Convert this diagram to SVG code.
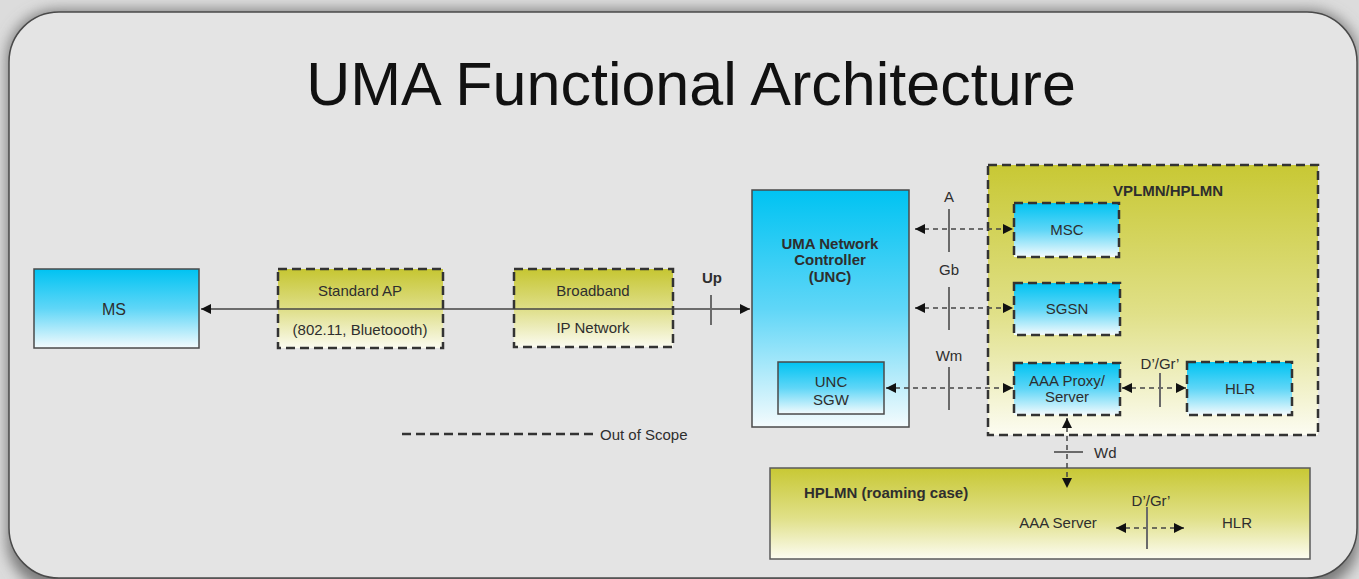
<svg xmlns="http://www.w3.org/2000/svg" width="1359" height="579" viewBox="0 0 1359 579">
<style>
text{font-family:"Liberation Sans",Arial,sans-serif;fill:#2e2e2e;font-size:15px;text-anchor:middle;dominant-baseline:central}
.b{font-weight:bold}
.cyan{fill:url(#gCyan);stroke:#4a4a4a;stroke-width:1.5}
.cyanD{fill:url(#gCyan);stroke:#333;stroke-width:2.5;stroke-dasharray:9 5}
.olD{fill:url(#gOl);stroke:#333;stroke-width:2.5;stroke-dasharray:9 5}
.solid{stroke:#444;stroke-width:1.5;fill:none}
.dash{stroke:#444;stroke-width:1.5;fill:none;stroke-dasharray:5 4}
.tick{stroke:#6a6a6a;stroke-width:2;fill:none}
</style>
<defs>
<linearGradient id="gCyan" x1="0" y1="0" x2="0" y2="1">
<stop offset="0" stop-color="#00c3f2"/>
<stop offset="0.5" stop-color="#5fd6f7"/>
<stop offset="1" stop-color="#f4fbfd"/>
</linearGradient>
<linearGradient id="gOl" x1="0" y1="0" x2="0" y2="1">
<stop offset="0" stop-color="#c6c632"/>
<stop offset="0.5" stop-color="#dede86"/>
<stop offset="1" stop-color="#fbfbf0"/>
</linearGradient>
<linearGradient id="gOl2" x1="0" y1="0" x2="0" y2="1">
<stop offset="0" stop-color="#c8c834"/>
<stop offset="0.55" stop-color="#e0e088"/>
<stop offset="1" stop-color="#fcfcf2"/>
</linearGradient>
<filter id="sh" x="-5%" y="-10%" width="110%" height="120%">
<feGaussianBlur stdDeviation="7"/>
</filter>
<marker id="ah" viewBox="0 0 10 10" refX="10" refY="5" markerWidth="11" markerHeight="10" markerUnits="userSpaceOnUse" orient="auto-start-reverse">
<path d="M0,0 L10,5 L0,10 z" fill="#111"/>
</marker>
</defs>
<rect x="0" y="0" width="1359" height="579" fill="#dcdcdc"/>
<rect x="7" y="10" width="1352" height="580" rx="50" fill="#7a7a7a" filter="url(#sh)"/>
<rect x="9" y="12" width="1348" height="566" rx="50" fill="#e4e4e4" stroke="#4a4a4a" stroke-width="1.5"/>
<text x="691" y="84" style="font-size:61px;fill:#111">UMA Functional Architecture</text>

<g id="vplmn">
<rect x="988" y="165" width="330" height="270" fill="url(#gOl2)" stroke="#333" stroke-width="2.5" stroke-dasharray="9 5"/>
<text class="b" x="1168" y="190">VPLMN/HPLMN</text>
</g>
<g id="hplmn">
<rect x="770" y="468" width="540" height="91" fill="url(#gOl2)" stroke="#5a5a5a" stroke-width="1.5"/>
<text class="b" x="804" y="492" style="text-anchor:start">HPLMN (roaming case)</text>
<text x="1058" y="522">AAA Server</text>
<text x="1237" y="522">HLR</text>
<text x="1151" y="500">D’/Gr’</text>
</g>
<g id="ms">
<rect class="cyan" x="34" y="269" width="165" height="79"/>
<text x="114" y="309" style="font-size:16px">MS</text>
</g>
<g id="ap">
<rect class="olD" x="278" y="269" width="165" height="79"/>
<text x="360" y="290">Standard AP</text>
<text x="360" y="329">(802.11, Bluetoooth)</text>
</g>
<g id="broadband">
<rect class="olD" x="514" y="269" width="159" height="78"/>
<text x="593" y="290">Broadband</text>
<text x="593" y="327">IP Network</text>
</g>
<g id="unc">
<rect class="cyan" x="752" y="190" width="157" height="237"/>
<text class="b" x="830" y="243">UMA Network</text>
<text class="b" x="830" y="259">Controller</text>
<text class="b" x="830" y="276">(UNC)</text>
</g>
<g id="sgw">
<rect class="cyan" x="778" y="362" width="106" height="52"/>
<text x="831" y="381">UNC</text>
<text x="831" y="399">SGW</text>
</g>
<g id="msc">
<rect class="cyanD" x="1014" y="203" width="105" height="54"/>
<text x="1067" y="229">MSC</text>
</g>
<g id="sgsn">
<rect class="cyanD" x="1014" y="283" width="106" height="52"/>
<text x="1067" y="308">SGSN</text>
</g>
<g id="aaa">
<rect class="cyanD" x="1014" y="363" width="106" height="52"/>
<text x="1067" y="380">AAA Proxy/</text>
<text x="1067" y="396">Server</text>
</g>
<g id="hlr">
<rect class="cyanD" x="1187" y="362" width="105" height="53"/>
<text x="1240" y="388">HLR</text>
</g>
<g id="legend">
<line x1="402" y1="434" x2="593" y2="434" stroke="#333" stroke-width="2.5" stroke-dasharray="9 5"/>
<text x="600" y="434" style="text-anchor:start">Out of Scope</text>
</g>

<g id="connectors">
<line class="solid" x1="201" y1="309" x2="750" y2="309" marker-start="url(#ah)" marker-end="url(#ah)"/>
<line class="tick" x1="711" y1="295" x2="711" y2="325"/>
<text class="b" x="712" y="277">Up</text>

<line class="dash" x1="915" y1="229" x2="1013" y2="229" marker-start="url(#ah)" marker-end="url(#ah)"/>
<line class="tick" x1="949" y1="209" x2="949" y2="252"/>
<text x="949" y="196">A</text>

<line class="dash" x1="915" y1="308" x2="1013" y2="308" marker-start="url(#ah)" marker-end="url(#ah)"/>
<line class="tick" x1="949" y1="287" x2="949" y2="330"/>
<text x="949" y="269">Gb</text>

<line class="dash" x1="886" y1="388" x2="1013" y2="388" marker-start="url(#ah)" marker-end="url(#ah)"/>
<line class="tick" x1="949" y1="367" x2="949" y2="410"/>
<text x="949" y="355">Wm</text>

<line class="dash" x1="1122" y1="388" x2="1186" y2="388" marker-start="url(#ah)" marker-end="url(#ah)"/>
<line class="tick" x1="1160" y1="373" x2="1160" y2="407"/>
<text x="1160" y="363">D’/Gr’</text>

<line class="dash" x1="1067" y1="418" x2="1067" y2="488" marker-start="url(#ah)" marker-end="url(#ah)"/>
<line class="tick" x1="1054" y1="452" x2="1083" y2="452"/>
<text x="1094" y="452" style="text-anchor:start">Wd</text>

<line class="dash" x1="1116" y1="528" x2="1184" y2="528" marker-start="url(#ah)" marker-end="url(#ah)"/>
<line class="tick" x1="1147" y1="507" x2="1147" y2="549"/>
</g>
</svg>
